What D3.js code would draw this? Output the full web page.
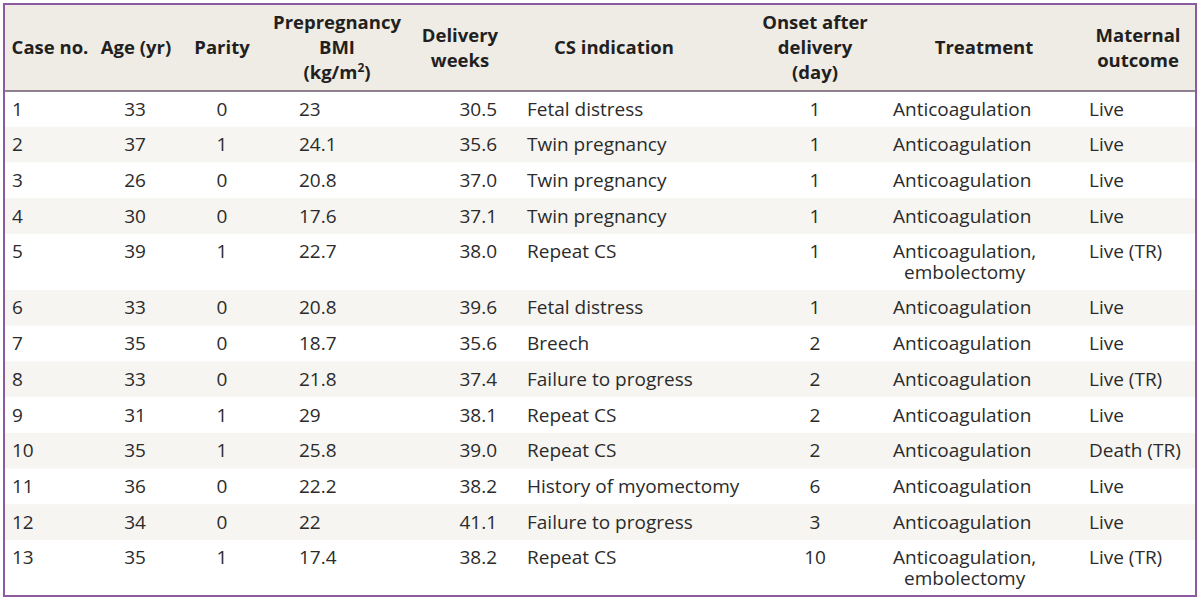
<!DOCTYPE html>
<html><head><meta charset="utf-8">
<script src="https://cdn.jsdelivr.net/npm/d3@7"></script>
<style>body{margin:0;background:#fff}svg{display:block}</style>
</head><body>
<svg id="c" width="1200" height="602"></svg>
<script>
const caseNo = ["1","2","3","4","5","6","7","8","9","10","11","12","13"];
const age = ["33","37","26","30","39","33","35","33","31","35","36","34","35"];
const parity = ["0","1","0","0","1","0","0","0","1","1","0","0","1"];
const bmi = ["23","24.1","20.8","17.6","22.7","20.8","18.7","21.8","29","25.8","22.2","22","17.4"];
const weeks = ["30.5","35.6","37.0","37.1","38.0","39.6","35.6","37.4","38.1","39.0","38.2","41.1","38.2"];
const indication = ["Fetal distress","Twin pregnancy","Twin pregnancy","Twin pregnancy","Repeat CS","Fetal distress","Breech","Failure to progress","Repeat CS","Repeat CS","History of myomectomy","Failure to progress","Repeat CS"];
const onset = ["1","1","1","1","1","1","2","2","2","2","6","3","10"];
const treatment = [["Anticoagulation"],["Anticoagulation"],["Anticoagulation"],["Anticoagulation"],["Anticoagulation,","embolectomy"],["Anticoagulation"],["Anticoagulation"],["Anticoagulation"],["Anticoagulation"],["Anticoagulation"],["Anticoagulation"],["Anticoagulation"],["Anticoagulation,","embolectomy"]];
const outcome = ["Live","Live","Live","Live","Live (TR)","Live","Live","Live (TR)","Live","Death (TR)","Live","Live","Live (TR)"];
const headers = [["Case no."],["Age (yr)"],["Parity"],["Prepregnancy","BMI","(kg/m²)"],["Delivery","weeks"],["CS indication"],["Onset after","delivery","(day)"],["Treatment"],["Maternal","outcome"]];

const svg = d3.select("#c");
const FONT = "'Open Sans', 'Noto Sans', sans-serif";
const BORDER = "#8c5a9e";
const L = 4, R = 1196, T = 4, HB = 91, B = 596;
const SINGLE = 35.7, EXTRA = 20.3;

// layout per column (positions)
const cols = [
  {vals: caseNo, x: 12, anchor: "start", hx: 50},
  {vals: age, x: 135, anchor: "middle", hx: 136},
  {vals: parity, x: 222, anchor: "middle", hx: 222},
  {vals: bmi, x: 299, anchor: "start", hx: 337},
  {vals: weeks, x: 497, anchor: "end", hx: 460},
  {vals: indication, x: 527, anchor: "start", hx: 614},
  {vals: onset, x: 815, anchor: "middle", hx: 815},
  {vals: treatment, x: 893, anchor: "start", hx: 984},
  {vals: outcome, x: 1089, anchor: "start", hx: 1138}
];

// row positions
const nLines = treatment.map(t => t.length);
const rowTops = [];
let acc = 0;
nLines.forEach(n => { rowTops.push(acc); acc += SINGLE + (n - 1) * EXTRA; });
const y = d3.scaleLinear().domain([0, acc]).range([HB, B]);
const rowH = i => y(rowTops[i] + SINGLE + (nLines[i] - 1) * EXTRA) - y(rowTops[i]);

// header background
svg.append("rect").attr("x", L).attr("y", T).attr("width", R - L).attr("height", HB - T).attr("fill", "#efece5");

// stripes
svg.append("g").selectAll("rect").data(caseNo.map((d, i) => i).filter(i => i % 2 === 1)).join("rect")
  .attr("x", L).attr("width", R - L)
  .attr("y", i => y(rowTops[i]))
  .attr("height", i => rowH(i))
  .attr("fill", "#f6f5f1");

// header line
svg.append("line").attr("x1", L).attr("x2", R).attr("y1", HB).attr("y2", HB).attr("stroke", "#6e5a70").attr("stroke-width", 1.5);

// headers
const hg = svg.append("g").attr("font-family", FONT).attr("font-weight", "bold").attr("font-size", 18.5).attr("fill", "#231f20").attr("text-anchor", "middle");
headers.forEach((h, ci) => {
  const n = h.length;
  const startBase = 54 - (n - 1) * 12.5;
  const t = hg.append("text").attr("x", cols[ci].hx).attr("y", startBase);
  h.forEach((line, li) => {
    if (line.includes("²")) {
      t.append("tspan").attr("x", cols[ci].hx).attr("dy", li ? 25 : 0).text("(kg/m");
      t.append("tspan").attr("font-size", 12).attr("dy", -7).text("2");
      t.append("tspan").attr("dy", 7).text(")");
    } else {
      t.append("tspan").attr("x", cols[ci].hx).attr("dy", li ? 25 : 0).text(line);
    }
  });
});

// body
const bg = svg.append("g").attr("font-family", FONT).attr("font-size", 19).attr("fill", "#2b2b2b");
cols.forEach((c, ci) => {
  c.vals.forEach((v, ri) => {
    const top = y(rowTops[ri]);
    const lines = Array.isArray(v) ? v : [v];
    const t = bg.append("text").attr("x", c.x).attr("y", top + 24.5).attr("text-anchor", c.anchor);
    const first = t.append("tspan").text(lines[0]);
    if (lines.length > 1) {
      const w = first.node().getComputedTextLength();
      t.append("tspan").attr("x", c.x + w / 2).attr("dy", 20.5).attr("text-anchor", "middle").text(lines[1]);
    }
  });
});

// border
svg.append("rect").attr("x", L).attr("y", T).attr("width", R - L).attr("height", B - T)
  .attr("fill", "none").attr("stroke", BORDER).attr("stroke-width", 2);
</script>
</body></html>
